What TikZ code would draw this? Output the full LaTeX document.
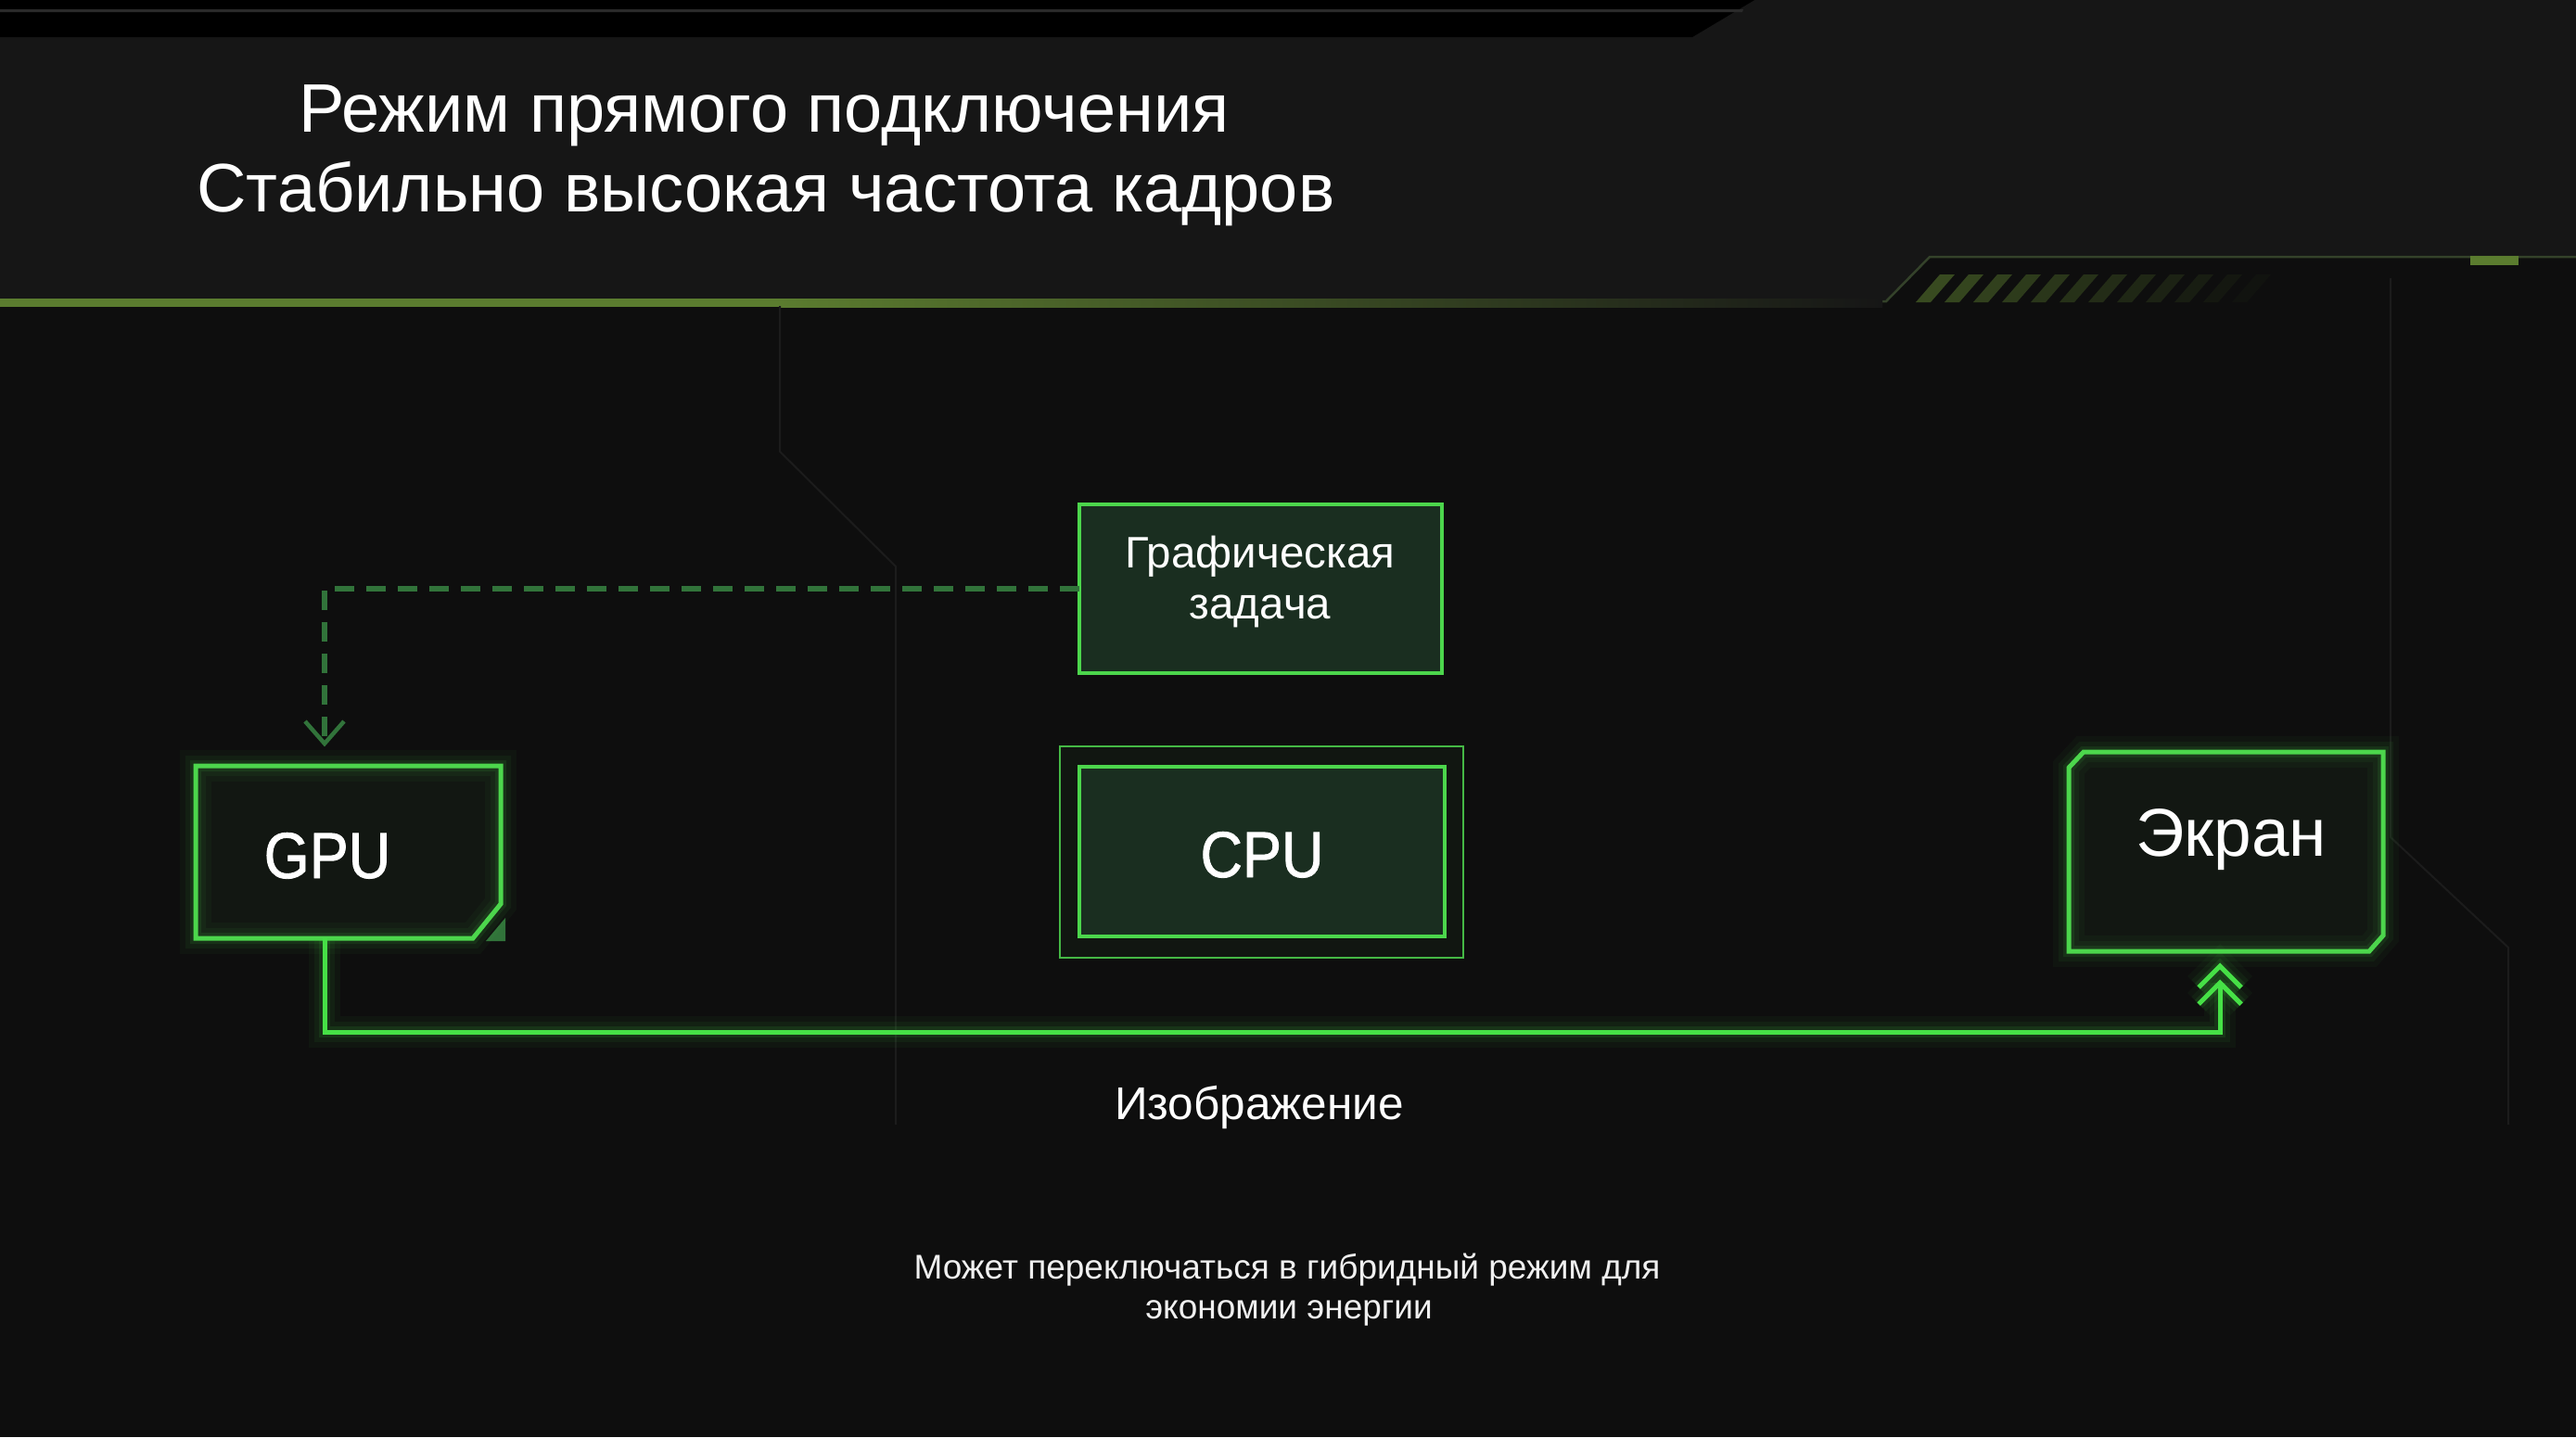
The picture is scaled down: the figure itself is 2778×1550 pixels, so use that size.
\documentclass[tikz,border=0pt]{standalone}
\usepackage{fontspec}
\setmainfont{Liberation Sans}
\newfontfamily\medfont{Liberation Sans}[FakeBold=1.2, FakeStretch=0.9]
\usetikzlibrary{calc}
\definecolor{bodybg}{HTML}{0E0E0E}
\definecolor{headbg}{HTML}{161616}
\definecolor{topline}{HTML}{2A2A2A}
\definecolor{olive}{HTML}{5B7C2F}
\definecolor{olivedim}{HTML}{34422A}
\definecolor{neon}{HTML}{4CD64C}
\definecolor{neonline}{HTML}{46E046}
\definecolor{boxfill}{HTML}{1A2E20}
\definecolor{darkfill}{HTML}{121712}
\definecolor{cpugap}{HTML}{111611}
\definecolor{cpuouter}{HTML}{45B845}
\definecolor{dashgreen}{HTML}{31733A}
\definecolor{faint}{HTML}{1C1C1C}
\begin{document}
\begin{tikzpicture}[x=1pt,y=-1pt,
  plain/.style={inner sep=0pt, outer sep=0pt},
  glow/.style={preaction={draw=#1, line width=34pt, draw opacity=0.04},
               preaction={draw=#1, line width=22pt, draw opacity=0.06},
               preaction={draw=#1, line width=12pt, draw opacity=0.10}},
  boxline/.style={draw=neon, line width=4.5pt, line join=miter},
  txt/.style={anchor=base, text=white, inner sep=0pt},
]
\useasboundingbox (0,0) rectangle (2778,1550);
\fill[bodybg] (0,0) rectangle (2778,1550);
% header
\fill[headbg] (1892,0) -- (2778,0) -- (2778,277) -- (2081,277) -- (2034,325) -- (0,325) -- (0,40) -- (1825,40) -- cycle;
\fill[black] (0,0) -- (1892,0) -- (1825,40) -- (0,40) -- cycle;
\fill[topline] (0,10) -- (1880,10) -- (1879,13) -- (0,13) -- cycle;
\draw[olivedim, line width=2.5pt] (0,325) -- (2034,325) -- (2081,277) -- (2778,277);
\fill[olive] (0,322) rectangle (840,331);
\shade[left color=olive, right color=headbg] (840,322) rectangle (2030,331);
\foreach \k in {0,...,11}{
  \pgfmathsetmacro\op{0.55*(1-\k/12)}
  \fill[olive, fill opacity=\op] (2066+31*\k,326) -- (2082+31*\k,326) -- (2108+31*\k,296) -- (2092+31*\k,296) -- cycle;
}
\fill[olive] (2664,276) rectangle (2716,286);
% faint background lines
\draw[faint, line width=2pt] (841,330) -- (841,487) -- (966,611) -- (966,1213);
\draw[faint, line width=2pt] (2578,300) -- (2578,903) -- (2705,1022) -- (2705,1213);
% title
\node[txt, font=\fontsize{74pt}{86pt}\selectfont] (t1) at (824,142) {Режим прямого подключения};
\node[txt, font=\fontsize{74pt}{86pt}\selectfont] (t2) at (826,228) {Стабильно высокая частота кадров};
% task box
\node[plain, boxline, fill=boxfill, minimum width=391pt, minimum height=182pt] (task) at (1359.5,635) {};
\node[txt, font=\fontsize{47.5pt}{55pt}\selectfont] (taskl1) at (1359,612) {Графическая};
\node[txt, font=\fontsize{47.5pt}{55pt}\selectfont] (taskl2) at (1359,667) {задача};
% CPU
\node[plain, draw=cpuouter, fill=cpugap, line width=2.5pt, minimum width=435pt, minimum height=228pt] (cpuframe) at (1360.5,919) {};
\node[plain, boxline, fill=boxfill, minimum width=394pt, minimum height=183pt] (cpu) at (1361,918.5) {};
\node[txt, font=\medfont\fontsize{70pt}{86pt}\selectfont] (cpul) at (1361,946) {CPU};
% GPU
\node[plain, minimum width=329pt, minimum height=186pt] (gpu) at (375.5,919) {};
\fill[dashgreen] ([xshift=-16pt,yshift=-3pt]gpu.south east) -- ([xshift=5pt,yshift=-3pt]gpu.south east) -- ([xshift=5pt,yshift=22pt]gpu.south east) -- cycle;
\fill[darkfill] (gpu.north west) -- (gpu.north east) -- ([yshift=37pt]gpu.south east) -- ([xshift=-30pt]gpu.south east) -- (gpu.south west) -- cycle;
\draw[boxline, line width=5pt, glow=neon] (gpu.north west) -- (gpu.north east) -- ([yshift=37pt]gpu.south east) -- ([xshift=-30pt]gpu.south east) -- (gpu.south west) -- cycle;
\node[txt, font=\medfont\fontsize{70pt}{86pt}\selectfont] (gpul) at (353,947) {GPU};
% Screen
\node[plain, minimum width=339pt, minimum height=215pt] (screen) at (2400.5,918.5) {};
\fill[darkfill] ([yshift=-17pt]screen.north west) -- ([xshift=16pt]screen.north west) -- (screen.north east) -- ([yshift=17pt]screen.south east) -- ([xshift=-15pt]screen.south east) -- (screen.south west) -- cycle;
\draw[boxline, line width=5pt, glow=neon] ([yshift=-17pt]screen.north west) -- ([xshift=16pt]screen.north west) -- (screen.north east) -- ([yshift=17pt]screen.south east) -- ([xshift=-15pt]screen.south east) -- (screen.south west) -- cycle;
\node[txt, font=\fontsize{73pt}{86pt}\selectfont] (screenl) at (2406,923) {Экран};
% dashed connector task -> GPU
\coordinate (gtip) at ($(gpu.north west)+(139,-24)$);
\draw[dashgreen, line width=6pt, dash pattern=on 21pt off 13pt] (task.west) -| (gtip);
\draw[dashgreen, line width=4.5pt] ($(gtip)+(-21,-24)$) -- (gtip) -- ($(gtip)+(21,-24)$);
% image connector GPU -> Screen
\coordinate (gstart) at ($(gpu.south west)+(139,0)$);
\coordinate (stip) at ($(screen.south)+(-6.5,34)$);
\draw[neonline, line width=5pt, line join=miter, glow=neonline] (gstart) -- ++(0,101) -| (stip);
\draw[neonline, line width=5pt, glow=neonline] ($(stip)+(-23,23)$) -- (stip) -- ($(stip)+(23,23)$);
\draw[neonline, line width=5pt, glow=neonline] ($(stip)+(-23,5)$) -- ($(stip)+(0,-18)$) -- ($(stip)+(23,5)$);
\node[txt, font=\fontsize{49.5pt}{58pt}\selectfont] (imgl) at (1358,1207) {Изображение};
% note
\node[txt, text=white!94!black, font=\fontsize{37pt}{43pt}\selectfont] (note1) at (1388,1379) {Может переключаться в гибридный режим для};
\node[txt, text=white!94!black, font=\fontsize{37pt}{43pt}\selectfont] (note2) at (1390,1422) {экономии энергии};
\end{tikzpicture}
\end{document}
